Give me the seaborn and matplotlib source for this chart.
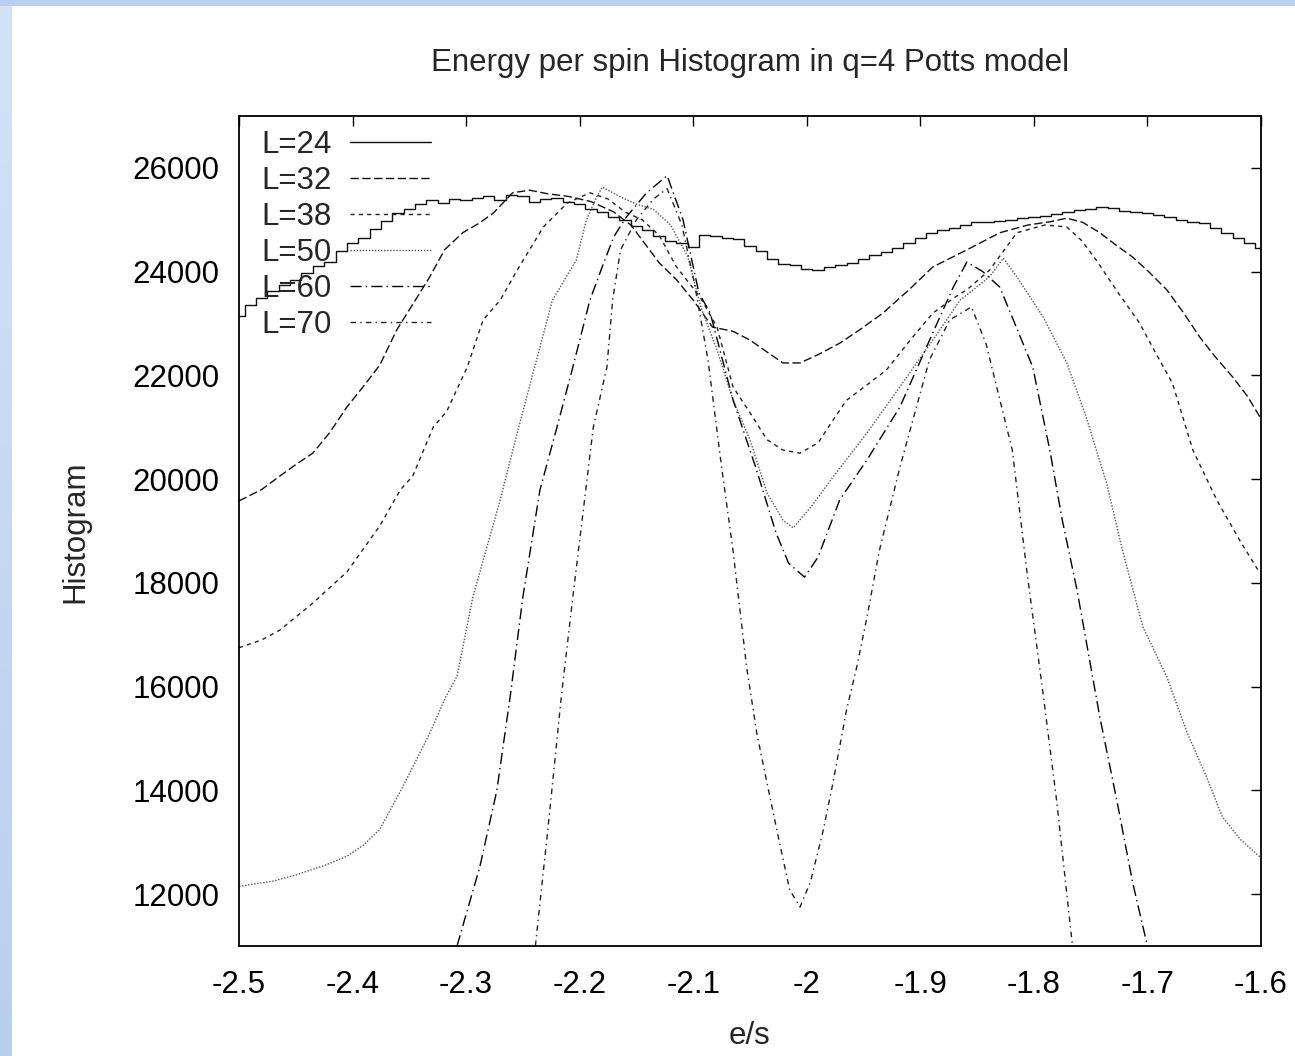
import numpy as np
import pandas as pd
import matplotlib
matplotlib.use("Agg")
import matplotlib.pyplot as plt
from matplotlib.lines import Line2D
from matplotlib.colors import LinearSegmentedColormap
import seaborn as sns

# ---------------- data ----------------
e_24 = np.round(np.linspace(-2.50, -1.60, 91), 3)
h_24 = [23150, 23350, 23500, 23620, 23750, 23840, 23980, 24100, 24190, 24400,
        24550, 24650, 24820, 24980, 25130, 25200, 25300, 25380, 25320, 25400,
        25380, 25420, 25460, 25380, 25470, 25450, 25350, 25400, 25420, 25350,
        25300, 25200, 25150, 25050, 25000, 24880, 24800, 24680, 24600, 24550,
        24480, 24700, 24680, 24650, 24620, 24500, 24400, 24250, 24150, 24120,
        24050, 24030, 24080, 24120, 24170, 24250, 24320, 24380, 24450, 24550,
        24650, 24740, 24800, 24850, 24900, 24950, 24960, 24980, 25000, 25030,
        25050, 25080, 25120, 25150, 25180, 25200, 25240, 25220, 25160, 25140,
        25130, 25100, 25060, 25000, 24960, 24930, 24850, 24750, 24650, 24560,
        24450]

e_32 = [-2.500, -2.480, -2.464, -2.450, -2.435, -2.420, -2.405, -2.390, -2.376, -2.361,
        -2.343, -2.332, -2.319, -2.303, -2.288, -2.276, -2.259, -2.244, -2.228, -2.210,
        -2.190, -2.170, -2.155, -2.145, -2.130, -2.115, -2.100, -2.083, -2.065, -2.050,
        -2.035, -2.021, -2.006, -1.990, -1.971, -1.952, -1.933, -1.910, -1.889, -1.859,
        -1.830, -1.805, -1.786, -1.771, -1.757, -1.742, -1.727, -1.713, -1.698, -1.683,
        -1.668, -1.654, -1.640, -1.625, -1.612, -1.601]
h_32 = [19580, 19800, 20060, 20280, 20500, 20900, 21390, 21800, 22200, 22880,
        23510, 23900, 24420, 24750, 24940, 25130, 25520, 25570, 25500, 25450,
        25350, 25150, 24900, 24610, 24170, 23850, 23450, 22930, 22850, 22680,
        22450, 22240, 22240, 22400, 22620, 22900, 23200, 23650, 24090, 24420,
        24750, 24900, 24960, 25030, 24950, 24750, 24500, 24280, 23980, 23650,
        23200, 22740, 22350, 21970, 21600, 21200]

e_38 = [-2.500, -2.480, -2.464, -2.435, -2.405, -2.376, -2.358, -2.347, -2.329, -2.317,
        -2.299, -2.285, -2.270, -2.255, -2.232, -2.211, -2.191, -2.175, -2.160, -2.145,
        -2.130, -2.115, -2.094, -2.079, -2.065, -2.050, -2.035, -2.021, -2.006, -1.990,
        -1.978, -1.965, -1.948, -1.930, -1.910, -1.889, -1.870, -1.859, -1.839, -1.815,
        -1.790, -1.771, -1.758, -1.745, -1.726, -1.707, -1.692, -1.678, -1.660, -1.639,
        -1.619, -1.601]
h_38 = [16750, 16900, 17090, 17610, 18210, 19100, 19790, 20060, 21000, 21310,
        22160, 23070, 23450, 24030, 24860, 25320, 25520, 25400, 25150, 25000,
        24700, 24100, 23510, 22930, 21780, 21280, 20760, 20560, 20500, 20700,
        21100, 21520, 21800, 22100, 22650, 23200, 23500, 23650, 24030, 24750,
        24900, 24860, 24600, 24220, 23600, 23010, 22400, 21850, 20560, 19600,
        18830, 18190]

e_50 = [-2.500, -2.470, -2.450, -2.425, -2.405, -2.390, -2.376, -2.356, -2.332, -2.318,
        -2.308, -2.294, -2.270, -2.255, -2.241, -2.224, -2.203, -2.194, -2.185, -2.180,
        -2.165, -2.150, -2.135, -2.120, -2.105, -2.093, -2.079, -2.065, -2.050, -2.035,
        -2.021, -2.012, -1.995, -1.977, -1.947, -1.918, -1.889, -1.865, -1.839, -1.827,
        -1.815, -1.792, -1.771, -1.754, -1.736, -1.722, -1.704, -1.683, -1.665, -1.648,
        -1.634, -1.618, -1.601]
h_50 = [12150, 12250, 12370, 12550, 12730, 12950, 13250, 14060, 15100, 15800,
        16200, 17730, 19600, 20890, 22050, 23450, 24220, 25000, 25440, 25630,
        25450, 25300, 25200, 24900, 24300, 23300, 22490, 21530, 20760, 19730,
        19210, 19060, 19500, 20040, 20890, 21780, 22680, 23450, 23900, 24260,
        23900, 23130, 22240, 21200, 19925, 18630, 17150, 16190, 15110, 14260,
        13490, 13050, 12720]

e_60 = [-2.308, -2.288, -2.273, -2.261, -2.250, -2.235, -2.220, -2.206, -2.191, -2.180,
        -2.170, -2.159, -2.141, -2.123, -2.109, -2.095, -2.085, -2.065, -2.045, -2.027,
        -2.016, -2.002, -1.990, -1.971, -1.947, -1.918, -1.889, -1.871, -1.859, -1.845,
        -1.830, -1.801, -1.786, -1.775, -1.762, -1.742, -1.727, -1.713, -1.700]
h_60 = [11000, 12520, 13990, 15840, 17730, 19790, 21000, 22160, 23450, 24100,
        24670, 25050, 25520, 25850, 25000, 23590, 23200, 21530, 20230, 18960,
        18380, 18110, 18500, 19600, 20370, 21390, 22820, 23700, 24185, 24000,
        23700, 22160, 20560, 19210, 17860, 15420, 13810, 12220, 11000]

e_70 = [-2.239, -2.228, -2.216, -2.206, -2.188, -2.176, -2.171, -2.164, -2.150, -2.135,
        -2.123, -2.110, -2.099, -2.087, -2.075, -2.065, -2.053, -2.044, -2.035, -2.024,
        -2.015, -2.006, -1.997, -1.986, -1.977, -1.965, -1.956, -1.947, -1.936, -1.918,
        -1.892, -1.874, -1.855, -1.842, -1.830, -1.819, -1.806, -1.792, -1.780, -1.766]
h_70 = [11000, 13250, 15840, 17730, 21000, 22160, 23450, 24420, 25000, 25400,
        25600, 24900, 23780, 22300, 20230, 18630, 16380, 15100, 14140, 12990,
        12080, 11750, 12220, 13180, 14140, 15550, 16380, 17340, 18630, 20230,
        22300, 23070, 23320, 22600, 21530, 20560, 18190, 15880, 13810, 11000]

labels = ["L=24", "L=32", "L=38", "L=50", "L=60", "L=70"]
x_ticks = [-2.5, -2.4, -2.3, -2.2, -2.1, -2.0, -1.9, -1.8, -1.7, -1.6]
x_ticklabels = ["-2.5", "-2.4", "-2.3", "-2.2", "-2.1", "-2", "-1.9", "-1.8", "-1.7", "-1.6"]
y_ticks = [12000, 14000, 16000, 18000, 20000, 22000, 24000, 26000]

# ---------------- styling ----------------
sns.set_theme(style="white")
plt.rcParams["font.family"] = ["Liberation Sans", "DejaVu Sans"]
FS = 22.5

dash_map = {"L=32": (6, 2.5), "L=38": (3, 3), "L=50": (1, 1.2),
            "L=60": (8, 3, 1, 3), "L=70": (4, 3, 1, 3)}
color_map = {"L=24": "#111111", "L=32": "#111111", "L=38": "#222222",
             "L=50": "#555555", "L=60": "#000000", "L=70": "#222222"}

rest = pd.concat([
    pd.DataFrame({"e": e_32, "h": h_32, "L": "L=32"}),
    pd.DataFrame({"e": e_38, "h": h_38, "L": "L=38"}),
    pd.DataFrame({"e": e_50, "h": h_50, "L": "L=50"}),
    pd.DataFrame({"e": e_60, "h": h_60, "L": "L=60"}),
    pd.DataFrame({"e": e_70, "h": h_70, "L": "L=70"}),
], ignore_index=True)
d24 = pd.DataFrame({"e": e_24, "h": h_24})

fig = plt.figure(figsize=(12.95, 10.56), dpi=100)
fig.patch.set_facecolor("white")

# light-blue frame strips (left and top)
cmap = LinearSegmentedColormap.from_list("bl", ["#b9cfee", "#d3e2f6"])
sax = fig.add_axes([0, 0, 11 / 1295, 1])
sax.imshow(np.linspace(1, 0, 256).reshape(-1, 1), aspect="auto", cmap=cmap,
           extent=[0, 1, 0, 1])
sax.set_axis_off()
tax = fig.add_axes([0, 1 - 6 / 1056, 1, 6 / 1056])
tax.set_facecolor("#b9d0ee")
tax.set_xticks([]); tax.set_yticks([])
for s in tax.spines.values():
    s.set_visible(False)

ax = fig.add_axes([239 / 1295, 110 / 1056, 1022 / 1295, 830 / 1056])

sns.lineplot(data=d24, x="e", y="h", ax=ax, color=color_map["L=24"], lw=1.0,
             drawstyle="steps-mid", estimator=None, sort=False, legend=False)
sns.lineplot(data=rest, x="e", y="h", hue="L", style="L", ax=ax,
             palette={k: color_map[k] for k in labels[1:]},
             dashes=dash_map, lw=1.0, estimator=None, sort=False, legend=False)

ax.set_xlim(-2.5, -1.6)
ax.set_ylim(11000, 27000)
ax.set_xticks(x_ticks)
ax.set_xticklabels(x_ticklabels)
ax.set_yticks(y_ticks)
ax.set_xlabel("")
ax.set_ylabel("")
ax.tick_params(direction="in", length=7, width=1.0, color="black",
               top=True, right=True, labelsize=FS, labelcolor="black")
ax.tick_params(axis="x", pad=17)
ax.tick_params(axis="y", pad=14)
for s in ax.spines.values():
    s.set_visible(True)
    s.set_color("black")
    s.set_linewidth(1.3)

# legend
handles = [Line2D([], [], color=color_map["L=24"], lw=1.0)]
for k in labels[1:]:
    handles.append(Line2D([], [], color=color_map[k], lw=1.0, dashes=dash_map[k]))
ax.legend(handles, labels, loc="upper left", frameon=False, fontsize=FS,
          markerfirst=False, handlelength=2.6, handletextpad=0.6,
          labelspacing=0.19, borderpad=0, borderaxespad=0,
          bbox_to_anchor=(22 / 1022, 1 - 14 / 830))

fig.text(750 / 1295, 1 - 63 / 1056, "Energy per spin Histogram in q=4 Potts model",
         ha="center", va="center", fontsize=FS)
fig.text(750 / 1295, 1 - 1036 / 1056, "e/s", ha="center", va="center", fontsize=FS)
fig.text(75 / 1295, 1 - 532 / 1056, "Histogram", ha="center", va="center",
         rotation=90, fontsize=FS)

fig.savefig("out.png", dpi=100)
